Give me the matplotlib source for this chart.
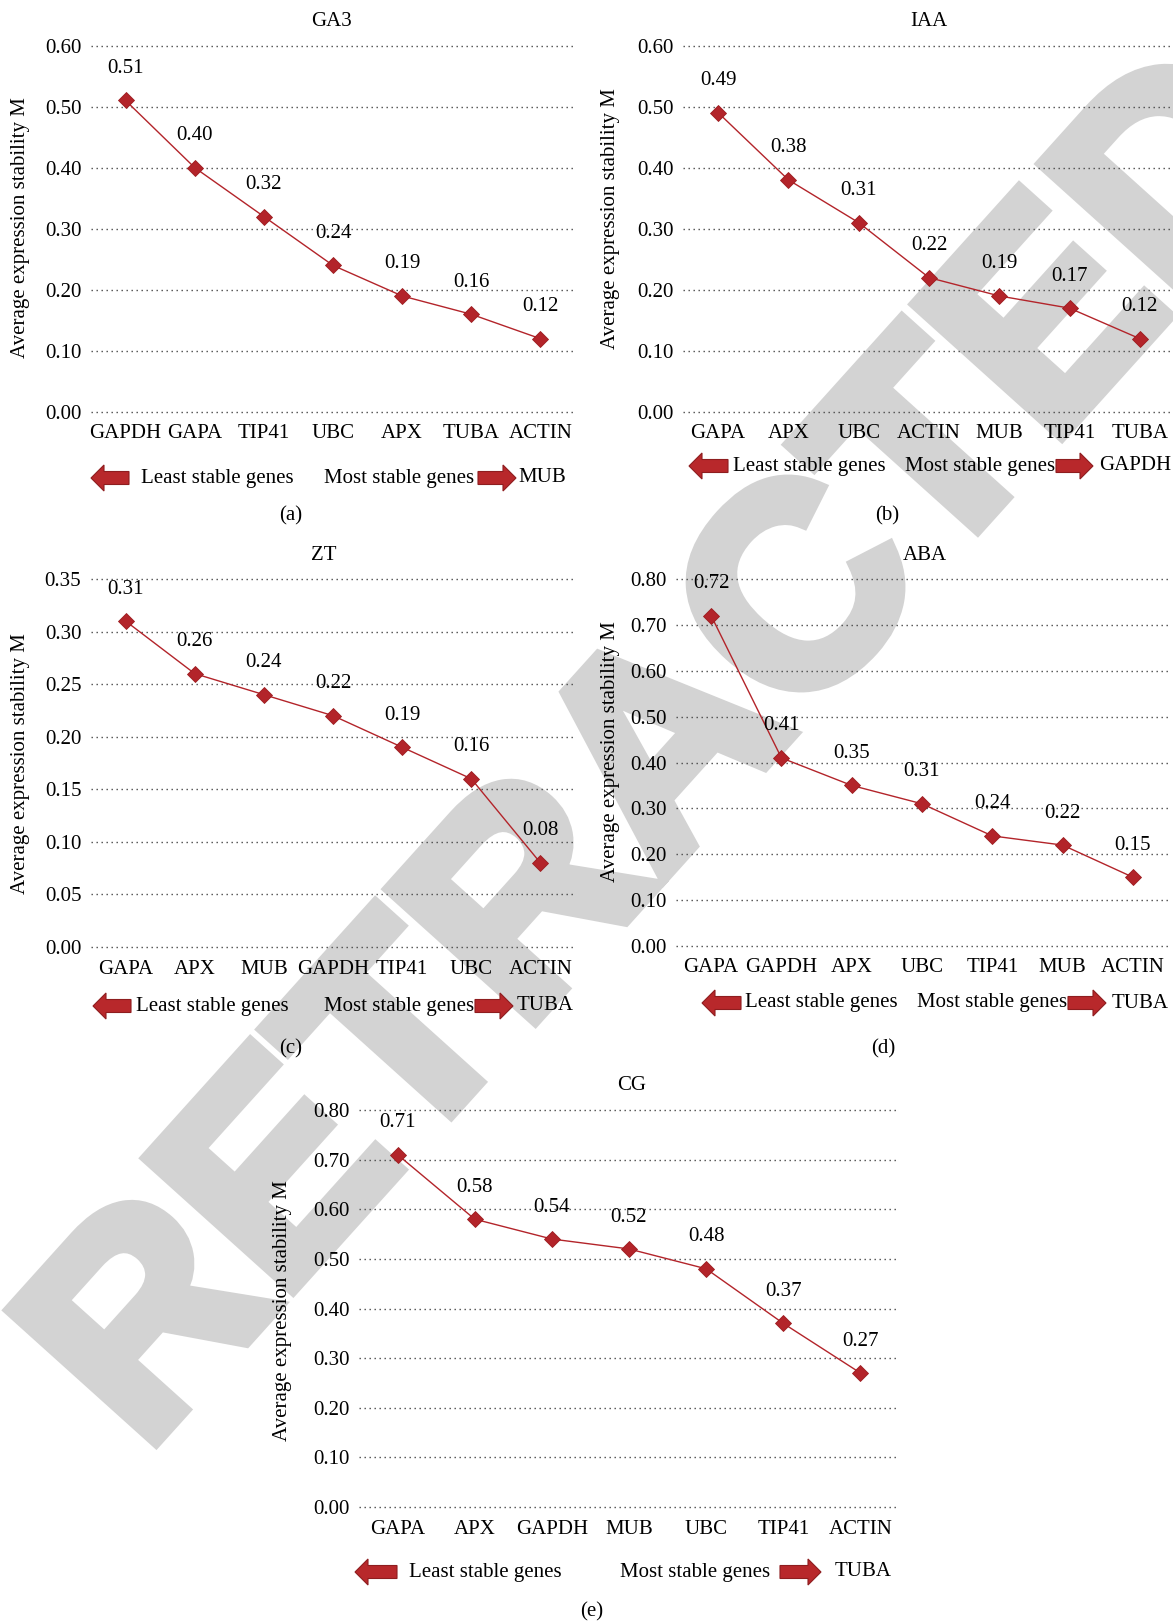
'''
geNorm stability plots for five hormone treatments
'''
import matplotlib
matplotlib.use('Agg')
import matplotlib.pyplot as plt
import matplotlib.patheffects as pe
from matplotlib.patches import Polygon

# --------------------------------
ga3_genes  = ['GAPDH', 'GAPA', 'TIP41', 'UBC', 'APX', 'TUBA', 'ACTIN']
ga3_m      = [0.51, 0.40, 0.32, 0.24, 0.19, 0.16, 0.12]
ga3_best   = 'MUB'

iaa_genes  = ['GAPA', 'APX', 'UBC', 'ACTIN', 'MUB', 'TIP41', 'TUBA']
iaa_m      = [0.49, 0.38, 0.31, 0.22, 0.19, 0.17, 0.12]
iaa_best   = 'GAPDH'

zt_genes   = ['GAPA', 'APX', 'MUB', 'GAPDH', 'TIP41', 'UBC', 'ACTIN']
zt_m       = [0.31, 0.26, 0.24, 0.22, 0.19, 0.16, 0.08]
zt_best    = 'TUBA'

aba_genes  = ['GAPA', 'GAPDH', 'APX', 'UBC', 'TIP41', 'MUB', 'ACTIN']
aba_m      = [0.72, 0.41, 0.35, 0.31, 0.24, 0.22, 0.15]
aba_best   = 'TUBA'

cg_genes   = ['GAPA', 'APX', 'GAPDH', 'MUB', 'UBC', 'TIP41', 'ACTIN']
cg_m       = [0.71, 0.58, 0.54, 0.52, 0.48, 0.37, 0.27]
cg_best    = 'TUBA'

ga3_ticks  = [0.0, 0.1, 0.2, 0.3, 0.4, 0.5, 0.6]
zt_ticks   = [0.0, 0.05, 0.10, 0.15, 0.20, 0.25, 0.30, 0.35]
aba_ticks  = [0.0, 0.1, 0.2, 0.3, 0.4, 0.5, 0.6, 0.7, 0.8]
# --------------------------------
class Data:
    '''
    Layout and style
    '''
    width   = 1173
    height  = 1623
    font    = 'Liberation Serif'
    size    = 15
    red     = '#b3242a'
    arrow   = '#b8282b'
    grid    = '#4a4a4a'
    wmark   = '#d3d3d3'
    ylabel  = 'Average expression stability M'
# --------------------------------
def _add_axes(fig, left : float, top : float, right : float, bottom : float):
    W, H = Data.width, Data.height
    ax = fig.add_axes([left / W, 1 - bottom / H, (right - left) / W, (bottom - top) / H])
    ax.set_facecolor('none')

    return ax
# --------------------------------
def _plot_panel(ax, genes : list, values : list, ticks : list) -> None:
    pos = range(len(genes))
    ax.plot(pos, values, color=Data.red, lw=1.0, marker='D', ms=8,
            mfc=Data.red, mec='#9c1c1f', mew=0.6, zorder=4, clip_on=False)

    for x, val in zip(pos, values):
        ax.annotate(f'{val:.2f}', xy=(x, val), xytext=(0, 23), textcoords='offset points',
                    ha='center', va='center', fontsize=Data.size, family=Data.font, zorder=5)

    ax.set_xlim(-0.5, len(genes) - 0.5)
    ax.set_ylim(ticks[0], ticks[-1])
    ax.set_yticks(ticks)
    ax.set_yticklabels([f'{t:.2f}' for t in ticks])
    ax.set_xticks(list(pos))
    ax.set_xticklabels(genes)

    ax.grid(axis='y', color=Data.grid, lw=1.0, linestyle=(0, (1, 2.6)), clip_on=False)
    ax.set_axisbelow(True)
    for spine in ax.spines.values():
        spine.set_visible(False)

    ax.tick_params(length=0, labelsize=Data.size)
    ax.tick_params(axis='y', pad=7)
    ax.tick_params(axis='x', pad=9)
    for lab in ax.get_xticklabels() + ax.get_yticklabels():
        lab.set_family(Data.font)
# --------------------------------
def _arrow(ovl, x0 : float, x1 : float, y : float, left : bool) -> None:
    head = 13
    body = 6.5
    tall = 13
    if left:
        pts = [(x0, y), (x0 + head, y - tall), (x0 + head, y - body), (x1, y - body),
               (x1, y + body), (x0 + head, y + body), (x0 + head, y + tall)]
    else:
        pts = [(x1, y), (x1 - head, y - tall), (x1 - head, y - body), (x0, y - body),
               (x0, y + body), (x1 - head, y + body), (x1 - head, y + tall)]

    ovl.add_patch(Polygon(pts, closed=True, fc=Data.arrow, ec='#8e1d1f', lw=0.8))
# --------------------------------
def _legend(ovl, y : float, larr : tuple, least : float, most : float, rarr : tuple, best_x : float, best : str) -> None:
    kw = dict(fontsize=Data.size, family=Data.font, va='center', ha='left')

    _arrow(ovl, larr[0], larr[1], y, left=True)
    ovl.text(least, y, 'Least stable genes', **kw)
    ovl.text(most , y, 'Most stable genes' , **kw)
    _arrow(ovl, rarr[0], rarr[1], y, left=False)
    ovl.text(best_x, y, best, **kw)
# --------------------------------
def _text(ovl, x : float, y : float, txt : str, rot : float = 0) -> None:
    ovl.text(x, y, txt, fontsize=Data.size, family=Data.font, ha='center', va='center', rotation=rot)
# --------------------------------
def main():
    '''
    Start here
    '''
    W, H = Data.width, Data.height
    fig = plt.figure(figsize=(W / 100, H / 100), dpi=100)

    # watermark sits behind the transparent axes
    fig.text(728 / W, 1 - 805 / H, 'RETRACTED', rotation=48, rotation_mode='anchor',
             ha='center', va='baseline', fontsize=204, fontweight='bold',
             family='Liberation Sans', color=Data.wmark, zorder=-1,
             path_effects=[pe.withStroke(linewidth=10, foreground=Data.wmark, joinstyle='miter')])

    ax_a = _add_axes(fig,  91,   45.5,  575,  412)
    ax_b = _add_axes(fig, 683,   45.5, 1175,  412)
    ax_c = _add_axes(fig,  91,  579  ,  575,  947)
    ax_d = _add_axes(fig, 676,  579  , 1168,  946)
    ax_e = _add_axes(fig, 359, 1110  ,  899, 1507)

    _plot_panel(ax_a, ga3_genes, ga3_m, ga3_ticks)
    _plot_panel(ax_b, iaa_genes, iaa_m, ga3_ticks)
    _plot_panel(ax_c, zt_genes , zt_m , zt_ticks )
    _plot_panel(ax_d, aba_genes, aba_m, aba_ticks)
    _plot_panel(ax_e, cg_genes , cg_m , aba_ticks)

    ovl = fig.add_axes([0, 0, 1, 1], zorder=10)
    ovl.set_xlim(0, W)
    ovl.set_ylim(H, 0)
    ovl.set_facecolor('none')
    ovl.axis('off')

    _text(ovl, 331,   21, 'GA3')
    _text(ovl, 929,   21, 'IAA')
    _text(ovl, 324,  555, 'ZT')
    _text(ovl, 925,  555, 'ABA')
    _text(ovl, 632, 1086, 'CG')

    _text(ovl,  21,  228, Data.ylabel, rot=90)
    _text(ovl, 611,  219, Data.ylabel, rot=90)
    _text(ovl,  21,  764, Data.ylabel, rot=90)
    _text(ovl, 611,  752, Data.ylabel, rot=90)
    _text(ovl, 283, 1311, Data.ylabel, rot=90)

    _legend(ovl,  478, ( 91, 129), 141, 324, ( 478,  516),  518, ga3_best)
    _legend(ovl,  466, (689, 728), 733, 905, (1056, 1093), 1099, iaa_best)
    _legend(ovl, 1006, ( 93, 131), 136, 324, ( 475,  513),  517, zt_best )
    _legend(ovl, 1003, (702, 741), 745, 917, (1068, 1106), 1112, aba_best)
    _legend(ovl, 1572, (355, 397), 409, 620, ( 780,  821),  835, cg_best )

    _text(ovl, 291,  516, '(a)')
    _text(ovl, 887,  516, '(b)')
    _text(ovl, 291, 1049, '(c)')
    _text(ovl, 883, 1049, '(d)')
    _text(ovl, 592, 1612, '(e)')

    fig.savefig('out.png', dpi=100)
    plt.close(fig)
# --------------------------------
if __name__ == '__main__':
    main()
